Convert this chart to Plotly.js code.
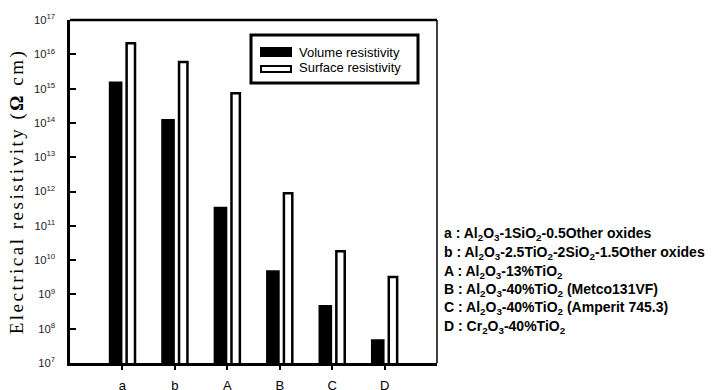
<!DOCTYPE html>
<html>
<head>
<meta charset="utf-8">
<script src="https://cdn.plot.ly/plotly-3.0.1.min.js"></script>
<style>body{margin:0;background:#fff;} #chart{width:722px;height:390px;}</style>
</head>
<body>
<div id="chart"></div>
<script>
// ---- data ----
const categories = ["a", "b", "A", "B", "C", "D"];
const volumeResistivity  = [1.6e15, 1.3e14, 3.6e11, 5.1e9, 4.9e8, 4.9e7];
const surfaceResistivity = [2.1e16, 6.0e15, 7.3e14, 8.9e11, 1.8e10, 3.2e9];
const seriesNames = ["Volume resistivity", "Surface resistivity"];
const compositionLabels = [
  "a : Al<sub>2</sub>O<sub>3</sub>-1SiO<sub>2</sub>-0.5Other oxides",
  "b : Al<sub>2</sub>O<sub>3</sub>-2.5TiO<sub>2</sub>-2SiO<sub>2</sub>-1.5Other oxides",
  "A : Al<sub>2</sub>O<sub>3</sub>-13%TiO<sub>2</sub>",
  "B : Al<sub>2</sub>O<sub>3</sub>-40%TiO<sub>2</sub> (Metco131VF)",
  "C : Al<sub>2</sub>O<sub>3</sub>-40%TiO<sub>2</sub> (Amperit 745.3)",
  "D : Cr<sub>2</sub>O<sub>3</sub>-40%TiO<sub>2</sub>"
];
const yTitle = "Electrical resistivity (<b>Ω</b> cm)";

// ---- layout helpers (paper coords from pixel positions) ----
const L = 70, R = 437, T = 20, B = 363;
const px = x => (x - L) / (R - L);
const py = y => (B - y) / (B - T);

const traces = [
  {type: "bar", name: seriesNames[0], x: categories, y: volumeResistivity,
   offset: -0.26, width: 0.26,
   marker: {color: "#000", line: {color: "#000", width: 0}}},
  {type: "bar", name: seriesNames[1], x: categories, y: surfaceResistivity,
   offset: 0.08, width: 0.16,
   marker: {color: "#fff", line: {color: "#000", width: 2.5}}}
];

const annFont = {family: "Arial, Liberation Sans, sans-serif", size: 14, color: "#000"};
const annotations = compositionLabels.map((t, i) => ({
  xref: "paper", yref: "paper", x: px(442), y: py([234, 253, 272, 290, 308, 327][i]),
  xanchor: "left", yanchor: "middle", showarrow: false,
  text: "<b>" + t + "</b>", font: annFont
}));
const legFont = {family: "Arial, Liberation Sans, sans-serif", size: 13, color: "#000"};
annotations.push(
  {xref: "paper", yref: "paper", x: px(297), y: py(52), xanchor: "left", yanchor: "middle",
   showarrow: false, text: seriesNames[0], font: legFont},
  {xref: "paper", yref: "paper", x: px(297), y: py(68), xanchor: "left", yanchor: "middle",
   showarrow: false, text: seriesNames[1], font: legFont}
);

const shapes = [
  {type: "line", xref: "paper", yref: "paper", x0: 0, x1: 1, y0: 1, y1: 1, line: {color: "#000", width: 2.5}},
  {type: "line", xref: "paper", yref: "paper", x0: 1, x1: 1, y0: 0, y1: 1, line: {color: "#000", width: 1.5}},
  {type: "rect", xref: "paper", yref: "paper", x0: px(251), x1: px(418), y0: py(83), y1: py(35),
   line: {color: "#000", width: 3}, fillcolor: "#fff"},
  {type: "rect", xref: "paper", yref: "paper", x0: px(260), x1: px(292), y0: py(57), y1: py(47),
   line: {color: "#000", width: 0}, fillcolor: "#000"},
  {type: "rect", xref: "paper", yref: "paper", x0: px(261), x1: px(291), y0: py(72), y1: py(66),
   line: {color: "#000", width: 2}, fillcolor: "#fff"}
];

const layout = {
  width: 722, height: 390,
  margin: {l: L, r: 722 - R, t: T, b: 390 - B, pad: 0},
  paper_bgcolor: "#fff", plot_bgcolor: "#fff",
  showlegend: false,
  barmode: "overlay",
  font: {family: "Arial, Liberation Sans, sans-serif", color: "#000"},
  xaxis: {
    type: "category", range: [-1, 6],
    showgrid: false, zeroline: false,
    showline: true, linecolor: "#000", linewidth: 3,
    ticks: "outside", ticklen: 4, tickwidth: 2, tickcolor: "#000",
    tickfont: {family: "Arial, Liberation Sans, sans-serif", size: 13, color: "#000"},
    ticklabelstandoff: 4
  },
  yaxis: {
    type: "log", range: [7, 17], dtick: 1,
    exponentformat: "power",
    showgrid: false, zeroline: false,
    showline: true, linecolor: "#000", linewidth: 3,
    ticks: "inside", ticklen: 6, tickwidth: 2, tickcolor: "#000",
    tickfont: {family: "Arial, Liberation Sans, sans-serif", size: 9, color: "#222"},
    ticklabelstandoff: 10,
    title: {text: yTitle, standoff: 6,
            font: {family: "Liberation Serif, Times New Roman, serif", size: 19, color: "#000"}}
  },
  shapes: shapes,
  annotations: annotations
};

Plotly.newPlot("chart", traces, layout, {staticPlot: true, displayModeBar: false}).then(() => {
  document.querySelectorAll(".ytitle").forEach(el => el.style.letterSpacing = "2.5px");
});
</script>
</body>
</html>
